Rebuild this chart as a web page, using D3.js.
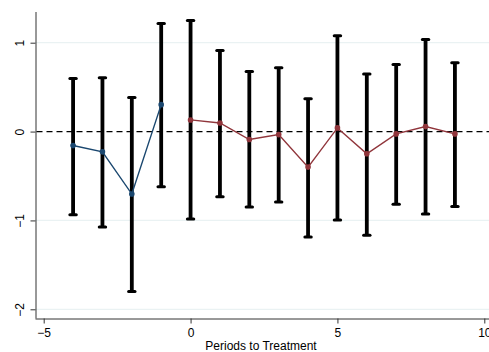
<!DOCTYPE html>
<html><head><meta charset="utf-8">
<script src="https://cdn.jsdelivr.net/npm/d3@7"></script>
<style>body{margin:0;background:#fff}svg{display:block}text{font-family:Arial,"Liberation Sans",sans-serif}</style>
</head><body><svg id="c" width="489" height="352"></svg>
<script>
const periods = [-4,-3,-2,-1,0,1,2,3,4,5,6,7,8,9];
const estimates = [-0.157,-0.228,-0.703,0.303,0.131,0.097,-0.09,-0.034,-0.40,0.041,-0.25,-0.026,0.056,-0.026];
const upper = [0.598,0.606,0.382,1.216,1.25,0.912,0.677,0.718,0.37,1.077,0.647,0.755,1.036,0.774];
const lower = [-0.935,-1.074,-1.80,-0.62,-0.984,-0.733,-0.849,-0.793,-1.186,-0.995,-1.167,-0.819,-0.928,-0.842];
const xTicks = [-5,0,5,10];
const yTicks = [-2,-1,0,1];
const xTitle = "Periods to Treatment";

const svg = d3.select("#c");
const x = d3.scaleLinear().domain([-5,10]).range([43.7,484.3]);
const y = d3.scaleLinear().domain([-2,1]).range([309.3,42.7]);
const plotLeft = 35.5, plotTop = 12, plotBottom = 318.5;

// gridlines
svg.append("g").selectAll("line").data(yTicks.filter(d=>d!==0)).join("line")
  .attr("x1",plotLeft).attr("x2",489).attr("y1",d=>y(d)).attr("y2",d=>y(d))
  .attr("stroke","#eaf2f3").attr("stroke-width",1.2);

// axes
const ya = svg.append("g").attr("transform",`translate(${plotLeft},0)`)
  .call(d3.axisLeft(y).tickValues(yTicks).tickSize(5).tickPadding(6).tickFormat(d3.format("d")));
ya.select(".domain").attr("d",`M0.5,${plotTop}V${plotBottom}`).attr("stroke","#333");
ya.selectAll(".tick line").attr("stroke","#333");
ya.selectAll(".tick text").attr("transform","rotate(-90)").attr("x",0).attr("y",-16)
  .attr("dy","0.35em").attr("text-anchor","middle").attr("font-size",12).attr("fill","#000");

const xa = svg.append("g").attr("transform",`translate(0,${plotBottom})`)
  .call(d3.axisBottom(x).tickValues(xTicks).tickSize(5).tickPadding(5).tickFormat(d3.format("d")));
xa.select(".domain").attr("d",`M${plotLeft},0.5H489`).attr("stroke","#333");
xa.selectAll(".tick line").attr("stroke","#333");
xa.selectAll(".tick text").attr("font-size",12).attr("fill","#000");

svg.append("text").attr("x",261).attr("y",350).attr("text-anchor","middle")
  .attr("font-size",12).attr("fill","#000").text(xTitle);

// zero line
svg.append("line").attr("x1",plotLeft+1).attr("x2",489).attr("y1",y(0)).attr("y2",y(0))
  .attr("stroke","#000").attr("stroke-width",1.3).attr("stroke-dasharray","6,4");

const data = periods.map((p,i)=>({p,e:estimates[i],u:upper[i],l:lower[i]}));

// error bars
const eb = svg.append("g");
eb.selectAll("line.bar").data(data).join("line").attr("class","bar")
  .attr("x1",d=>x(d.p)).attr("x2",d=>x(d.p)).attr("y1",d=>y(d.u)).attr("y2",d=>y(d.l))
  .attr("stroke","#000").attr("stroke-width",3.8);
["u","l"].forEach(k=>{
  eb.selectAll("line.cap"+k).data(data).join("line").attr("class","cap"+k)
    .attr("x1",d=>x(d.p)-3.2).attr("x2",d=>x(d.p)+3.2).attr("y1",d=>y(d[k])).attr("y2",d=>y(d[k]))
    .attr("stroke","#000").attr("stroke-width",3).attr("stroke-linecap","round");
});

const line = d3.line().x(d=>x(d.p)).y(d=>y(d.e));
const pre = data.filter(d=>d.p<0), post = data.filter(d=>d.p>=0);
[[pre,"#1a476f"],[post,"#90353b"]].forEach(([ds,col])=>{
  svg.append("path").datum(ds).attr("d",line).attr("fill","none").attr("stroke",col).attr("stroke-width",1.4);
  svg.append("g").selectAll("circle").data(ds).join("circle")
    .attr("cx",d=>x(d.p)).attr("cy",d=>y(d.e)).attr("r",2.8).attr("fill",col);
});
</script></body></html>
